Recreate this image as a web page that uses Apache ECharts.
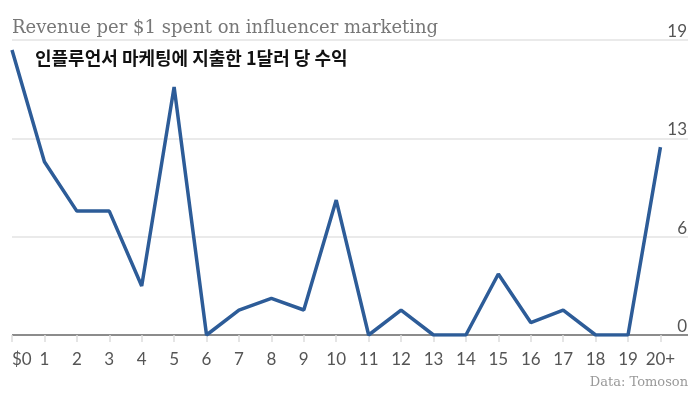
<!DOCTYPE html>
<html>
<head>
<meta charset="utf-8">
<script src="https://cdn.jsdelivr.net/npm/echarts@6/dist/echarts.min.js"></script>
<style>html,body{margin:0;padding:0;background:#fff}#c{width:700px;height:394px}</style>
</head>
<body>
<div id="c"></div>
<script>
const categories = ['$0','1','2','3','4','5','6','7','8','9','10','11','12','13','14','15','16','17','18','19','20+'];
const revenue = [18.35, 11.16, 7.98, 7.98, 3.16, 15.97, 0, 1.6, 2.36, 1.61, 8.69, 0, 1.6, 0, 0, 3.93, 0.8, 1.6, 0, 0, 12.1];
const yTickLabels = ['0', '6', '13', '19'];
const titleText = 'Revenue per $1 spent on influencer marketing';
const subtitleText = '인플루언서 마케팅에 지출한 1달러 당 수익';
const sourceText = 'Data: Tomoson';

const yMax = 19;
const yInterval = yMax / (yTickLabels.length - 1);
const catIdx = categories.map((c, i) => i);

const chart = echarts.init(document.getElementById('c'), null, {renderer: 'canvas'});
chart.setOption({
  animation: false,
  backgroundColor: '#fff',
  grid: {left: 12, right: 12, top: 40, bottom: 59, containLabel: false},
  xAxis: {
    type: 'value', min: 0, max: 20.85, interval: 1,
    offset: 10,
    axisLine: {show: false},
    axisTick: {show: true, length: 7, customValues: catIdx, lineStyle: {color: '#ddd', width: 1.5}},
    axisLabel: {
      customValues: catIdx, margin: 6, color: '#555', fontFamily: 'Lato', fontSize: 17,
      alignMinLabel: 'left',
      formatter: v => categories[Math.round(v)] ?? ''
    },
    splitLine: {show: false}
  },
  yAxis: {
    type: 'value', position: 'right', min: 0, max: yMax, interval: yInterval,
    axisLine: {show: false}, axisTick: {show: false},
    axisLabel: {
      inside: true, margin: 1, verticalAlign: 'bottom', color: '#555', fontFamily: 'Lato', fontSize: 17,
      formatter: v => yTickLabels[Math.round(v / yInterval)]
    },
    splitLine: {show: true, lineStyle: {color: ['#666', '#e3e3e3', '#e3e3e3', '#e3e3e3'], width: 1.5}}
  },
  series: [{
    type: 'line',
    data: revenue.map((v, i) => [i, v]),
    symbol: 'none',
    lineStyle: {color: '#2d5c98', width: 3.5},
    z: 5
  }],
  graphic: [
    {type: 'text', left: 12, top: 19, style: {text: titleText, fill: '#777', font: '18px "DejaVu Serif"'}},
    {type: 'text', left: 35, top: 49, z: 10, style: {text: subtitleText, fill: '#111', font: 'bold 18px "Noto Sans CJK KR"', backgroundColor: '#fff'}},
    {type: 'text', right: 12, top: 376, style: {text: sourceText, fill: '#999', font: '13px "DejaVu Serif"'}}
  ]
});
</script>
</body>
</html>
